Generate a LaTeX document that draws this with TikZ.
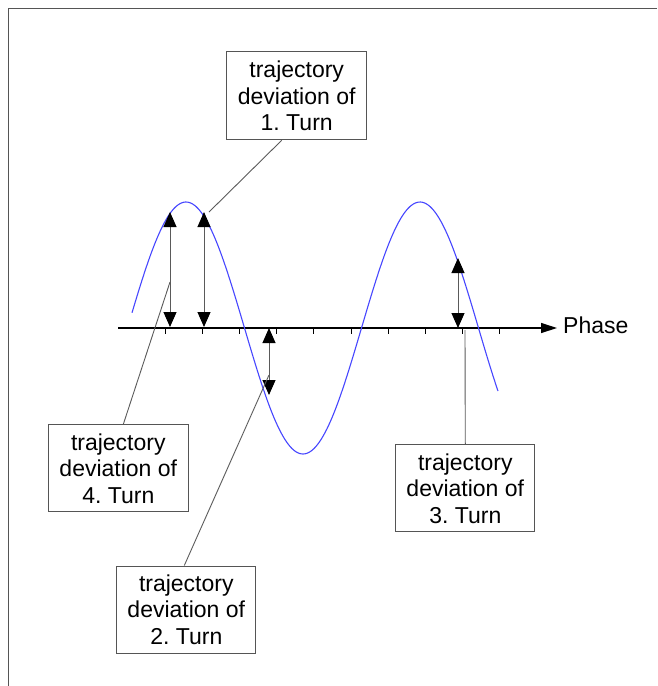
\documentclass[tikz,border=0pt]{standalone}
\usepackage{fontspec}
\setmainfont{Liberation Sans}
\usetikzlibrary{arrows.meta}
\definecolor{curveblue}{RGB}{70,70,255}
\definecolor{framegray}{RGB}{85,85,85}
\definecolor{linegray}{RGB}{90,90,90}
\tikzset{
  labelbox/.style={draw=framegray, line width=1pt, fill=white, align=center, inner sep=0pt,
    minimum width=139pt, minimum height=87pt, font=\fontsize{23}{26.5}\selectfont},
  leader/.style={draw=linegray, line width=0.9pt},
  devarrow/.style={draw=linegray, line width=1pt,
    {Triangle[length=15pt,width=13pt,color=black]}-{Triangle[length=15pt,width=13pt,color=black]}},
  tick/.style={draw=black, line width=1pt}
}
\frenchspacing
\begin{document}
\begin{tikzpicture}[x=1pt,y=-1pt]
\useasboundingbox (0,0) rectangle (657,686);
% frame
\draw[framegray, line width=1pt] (657,8) -- (8.5,8) -- (8.5,686);
% axis
\coordinate (axstart) at (118,328);
\coordinate (axend) at (557,328);
\draw[black, line width=1.3pt, -{Triangle[length=16pt,width=10pt]}] (axstart) -- (axend);
\node[anchor=base west, inner sep=0pt, font=\fontsize{23}{26.5}\selectfont] (phase) at (563,333) {Phase};
\foreach \k in {0,...,9} {
  \draw[tick] ({165+37.2*\k},328) -- ({165+37.2*\k},334);
}
% sine curve
\draw[curveblue, line width=1.1pt, domain=132:498, samples=200, smooth]
  plot (\x, {328-126*cos(1.538462*(\x-186))});
% deviation arrows
\coordinate (a1t) at (170,212); \coordinate (a1b) at (170,327);
\coordinate (a2t) at (204,212); \coordinate (a2b) at (204,327);
\coordinate (a3t) at (269,328); \coordinate (a3b) at (269,395);
\coordinate (a4t) at (458,258); \coordinate (a4b) at (458,328);
\draw[devarrow] (a1t) -- (a1b);
\draw[devarrow] (a2t) -- (a2b);
\draw[devarrow] (a3t) -- (a3b);
\draw[devarrow] (a4t) -- (a4b);
% boxes
\node[labelbox, minimum width=140pt, minimum height=88pt] (b1) at (296.7,95.8) {trajectory\\deviation of\\1. Turn};
\node[labelbox, minimum width=140pt] (b4) at (118.3,468.3) {trajectory\\deviation of\\4. Turn};
\node[labelbox] (b2) at (186.3,609.5) {trajectory\\deviation of\\2. Turn};
\node[labelbox] (b3) at (465.3,488.3) {trajectory\\deviation of\\3. Turn};
% leaders
\coordinate (l1) at (209,212);
\coordinate (l4) at (170,282);
\coordinate (l2) at (269,375);
\coordinate (l3) at (465,330);
\draw[leader] ([xshift=-15pt]b1.south) -- (l1);
\draw[leader] ([xshift=5pt]b4.north) -- (l4);
\draw[leader] ([xshift=-2pt]b2.north) -- (l2);
\draw[leader] (b3.north) -- (l3);
\end{tikzpicture}
\end{document}
